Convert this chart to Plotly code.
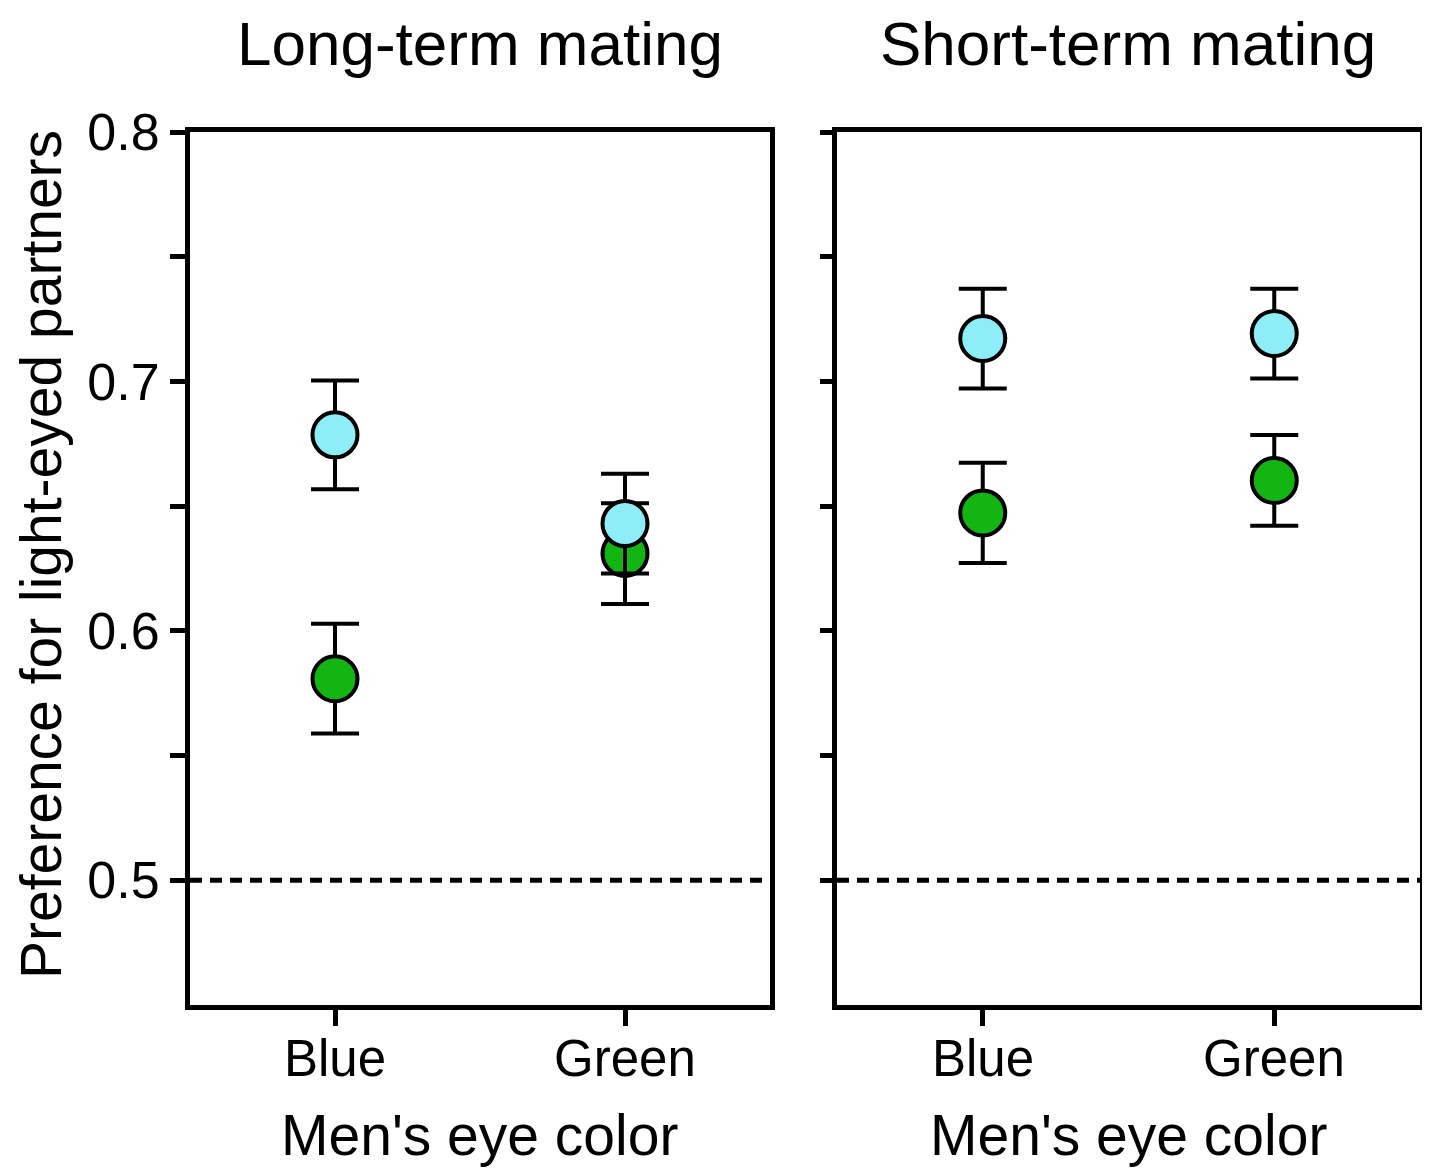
import plotly.graph_objects as go

# ---- data ----
men_eye = ["Blue", "Green"]
panels = ["Long-term mating", "Short-term mating"]

# women's preference for light-eyed partners (means and SE)
long_light = [0.6786, 0.6430]
long_light_err = [0.0218, 0.0200]
long_green = [0.5808, 0.6310]
long_green_err = [0.0220, 0.0202]

short_light = [0.7172, 0.7192]
short_light_err = [0.0200, 0.0180]
short_green = [0.6473, 0.6603]
short_green_err = [0.0201, 0.0182]

y_ticks = [0.5, 0.55, 0.6, 0.65, 0.7, 0.75, 0.8]
y_tick_text = ["0.5", "", "0.6", "", "0.7", "", "0.8"]
reference_level = 0.5

# page body has an 8px margin; size the figure so it fits the 1430x1176 window
OFF = 8
W, H = 1430 - 2 * OFF, 1176 - 2 * OFF
FONT = "Arial, Liberation Sans, Helvetica, sans-serif"
CYAN = "#8eeef8"
GREEN = "#12b512"


def px_x(p):
    return (p - OFF) / W


def px_y(p):
    return 1 - (p - OFF) / H


fig = go.Figure()


def add_panel(xa, ya, light, light_err, green, green_err):
    for vals, errs, col in [(green, green_err, GREEN), (light, light_err, CYAN)]:
        fig.add_trace(go.Scatter(
            x=[0, 1], y=vals, mode="markers", xaxis=xa, yaxis=ya,
            marker=dict(size=45, color=col, line=dict(color="black", width=4)),
            error_y=dict(type="data", array=errs, visible=True, color="black",
                         thickness=4, width=24),
            showlegend=False, cliponaxis=False,
        ))


add_panel("x", "y", long_light, long_light_err, long_green, long_green_err)
add_panel("x2", "y2", short_light, short_light_err, short_green, short_green_err)

x1d = [px_x(190), px_x(770)]
x2d = [px_x(837), px_x(1420)]
yd = [px_y(1005), px_y(132)]

axis_common = dict(showline=True, linewidth=5, linecolor="black", mirror=True,
                   showgrid=False, zeroline=False, ticks="outside",
                   tickwidth=5, tickcolor="black", automargin=False)

fig.update_layout(
    width=W, height=H,
    margin=dict(l=0, r=0, t=0, b=0),
    paper_bgcolor="white", plot_bgcolor="white",
    font=dict(family=FONT, color="black"),
    xaxis=dict(domain=x1d, range=[-0.5, 1.5], tickvals=[0, 1], ticktext=["", ""],
               ticklen=16, anchor="y", **axis_common),
    yaxis=dict(domain=yd, range=[0.45, 0.8], tickvals=y_ticks, ticktext=y_tick_text,
               ticklen=15, tickfont=dict(size=52), anchor="x", **axis_common),
    xaxis2=dict(domain=x2d, range=[-0.5, 1.5], tickvals=[0, 1], ticktext=["", ""],
                ticklen=16, anchor="y2", **axis_common),
    yaxis2=dict(domain=yd, range=[0.45, 0.8], tickvals=y_ticks,
                ticktext=[""] * len(y_ticks), ticklen=12, anchor="x2", **axis_common),
)

for xr, yr in [("x", "y"), ("x2", "y2")]:
    fig.add_shape(type="line", xref=f"{xr} domain", yref=yr, x0=0, x1=1,
                  y0=reference_level, y1=reference_level,
                  line=dict(color="black", width=5, dash="12px,8px"), layer="below")
    # category labels under the x axis
    for i, lab in enumerate(men_eye):
        fig.add_annotation(text=lab, xref=xr, yref="paper", x=i, y=px_y(1058),
                           showarrow=False, font=dict(size=51),
                           xanchor="center", yanchor="middle")

# panel titles and x-axis titles
for name, dom in zip(panels, [x1d, x2d]):
    fig.add_annotation(text=name, xref="paper", yref="paper",
                       x=(dom[0] + dom[1]) / 2, y=1.0,
                       showarrow=False, font=dict(size=62), borderpad=0,
                       xanchor="center", yanchor="top")
    fig.add_annotation(text="Men's eye color", xref="paper", yref="paper",
                       x=(dom[0] + dom[1]) / 2, y=px_y(1135),
                       showarrow=False, font=dict(size=57), xanchor="center", yanchor="middle")

fig.add_annotation(text="Preference for light-eyed partners", xref="paper", yref="paper",
                   x=0.0, y=px_y(555), textangle=-90, showarrow=False, borderpad=0,
                   font=dict(size=57), xanchor="left", yanchor="middle")

fig.write_html("out.html")
